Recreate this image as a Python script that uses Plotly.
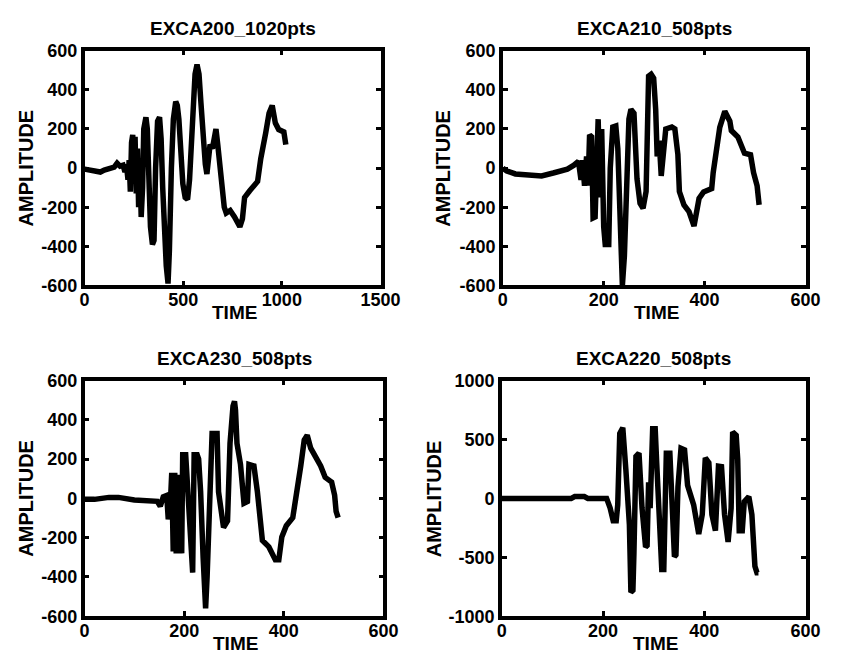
import plotly.graph_objects as go

# ---------------- data ----------------
titles = ["EXCA200_1020pts", "EXCA210_508pts", "EXCA230_508pts", "EXCA220_508pts"]

t200 = [0, 20, 50, 80, 100, 120, 150, 165, 180, 195, 205, 212, 220, 226, 232, 238, 244, 250, 256, 262,
        268, 274, 280, 287, 294, 300, 311, 318, 326, 334, 344, 352, 360, 370, 380, 388, 396, 404, 414, 423,
        430, 440, 450, 462, 470, 478, 488, 498, 510, 522, 532, 540, 550, 560, 570, 580, 590, 600, 612, 620,
        628, 636, 648, 658, 666, 675, 685, 695, 708, 718, 738, 760, 787, 800, 811, 836, 877, 893, 902, 918,
        935, 951, 967, 984, 1010, 1020]
a200 = [-5, -10, -15, -20, -10, -5, 5, 25, 10, 15, -20, 20, -60, 40, -120, 130, 170, -80, 160, -130,
        100, -200, 40, -250, -100, 200, 260, 200, -100, -300, -390, -370, 0, 240, 260, 150, -100, -350, -500, -590,
        -420, 0, 250, 340, 320, 250, 50, -80, -150, -160, -60, 100, 330, 480, 530, 480, 330, 150, 20, -30,
        80, 120, 100, 190, 200, 120, 0, -100, -200, -230, -217, -250, -300, -260, -150, -117, -68, 48, 114, 180,
        280, 320, 230, 197, 185, 120]

t210 = [0, 8, 25, 50, 77, 100, 128, 141, 150, 155, 158, 162, 166, 169, 172, 176, 179, 183, 186, 189,
        193, 196, 200, 203, 210, 213, 218, 224, 228, 232, 237, 241, 245, 250, 254, 260, 266, 272, 278, 284,
        289, 294, 299, 303, 306, 310, 314, 318, 323, 335, 341, 347, 350, 359, 369, 379, 389, 398, 414, 417,
        424, 430, 440, 450, 453, 466, 479, 491, 497, 504, 508]
a210 = [0, -15, -30, -35, -40, -25, -5, 15, 35, -60, 40, -90, 60, -90, 170, 160, -255, -250, 200, 250,
        -150, 200, -300, -390, -390, 0, 210, 215, 100, -300, -600, -450, -100, 250, 300, 280, -55, -180, -205, -120,
        470, 480, 460, 300, 60, 140, -40, 60, 200, 210, 200, 70, -120, -188, -222, -296, -155, -122, -105, -23,
        109, 208, 290, 240, 192, 159, 76, 68, -23, -90, -188]

t230 = [0, 20, 49, 68, 100, 132, 146, 152, 158, 165, 168, 172, 175, 178, 181, 184, 187, 190, 193, 195,
        197, 203, 210, 214, 217, 220, 226, 229, 233, 238, 243, 246, 249, 253, 256, 263, 266, 269, 279, 287,
        292, 298, 301, 303, 306, 313, 320, 327, 330, 340, 347, 357, 370, 383, 390, 396, 405, 418, 428, 434,
        441, 447, 454, 464, 474, 483, 496, 502, 505, 509]
a230 = [-5, -5, 5, 5, -8, -16, -15, -40, 8, 15, -107, -40, 130, -270, 130, -280, 120, -280, 100, -280,
        222, 222, -98, -360, -378, 222, 222, 200, 33, -300, -560, -400, -148, 200, 330, 330, 330, 33, -148, -115,
        280, 470, 494, 450, 280, 173, -25, -16, 173, 165, 33, -214, -247, -313, -313, -196, -139, -98, 49, 165,
        297, 321, 256, 214, 165, 107, 83, 16, -66, -98]

t220 = [0, 137, 144, 163, 170, 207, 214, 220, 226, 229, 233, 239, 245, 252, 255, 259, 261, 265, 271, 277,
        284, 287, 290, 293, 298, 303, 306, 310, 316, 320, 325, 332, 338, 341, 344, 348, 354, 361, 367, 373,
        379, 389, 396, 402, 409, 415, 422, 428, 434, 440, 447, 453, 456, 463, 466, 469, 475, 479, 488, 494,
        497, 500, 504, 507]
a220 = [0, 0, 15, 15, 0, 0, -82, -190, -190, -55, 550, 600, 247, -220, -795, -780, -466, 357, 384, -82,
        -412, -400, 137, -82, 590, 590, 300, -82, -603, -603, 384, 384, -110, -494, -480, 100, 425, 412, 110, 27,
        -55, -302, -137, 343, 302, -137, -274, 274, 270, -137, -370, -82, 563, 535, 330, -274, -274, -27, 14, -137,
        -466, -576, -630, -630]

x_ranges = [[0, 1500], [0, 600], [0, 600], [0, 600]]
x_ticks = [[0, 500, 1000, 1500], [0, 200, 400, 600], [0, 200, 400, 600], [0, 200, 400, 600]]
y_ranges = [[-600, 600], [-600, 600], [-600, 600], [-1000, 1000]]
y_ticks = [[-600, -400, -200, 0, 200, 400, 600], [-600, -400, -200, 0, 200, 400, 600],
           [-600, -400, -200, 0, 200, 400, 600], [-1000, -500, 0, 500, 1000]]

series = [(t200, a200), (t210, a210), (t230, a230), (t220, a220)]

# ---------------- layout geometry ----------------
W, H = 843, 666
boxes = [(82, 387, 42, 284), (513, 825, 42, 284), (82, 390, 382, 625), (512, 825, 382, 625)]
ylabel_x = [22, 452, 22, 442]
FONT = "Liberation Sans"

fig = go.Figure()
layout = dict(width=W, height=H, margin=dict(l=0, r=0, t=0, b=0),
              paper_bgcolor="white", plot_bgcolor="white", showlegend=False,
              font=dict(family=FONT, color="black"))
annotations = []
for i, (ts, amps) in enumerate(series):
    n = "" if i == 0 else str(i + 1)
    x0, x1, y0, y1 = boxes[i]
    fig.add_trace(go.Scatter(x=ts, y=amps, mode="lines", xaxis="x" + n, yaxis="y" + n,
                             line=dict(color="black", width=5.5), hoverinfo="skip"))
    common = dict(showline=True, linecolor="black", linewidth=3.5, mirror="ticks",
                  ticks="inside", ticklen=5, tickwidth=3, tickcolor="black",
                  showgrid=False, zeroline=False,
                  tickfont=dict(family=FONT, size=18, color="black", weight="bold"))
    layout["xaxis" + n] = dict(domain=[x0 / W, x1 / W], range=x_ranges[i], tickvals=x_ticks[i],
                               ticktext=[str(v) for v in x_ticks[i]], ticklabelstandoff=-5,
                               anchor="y" + n, **common)
    layout["yaxis" + n] = dict(domain=[1 - y1 / H, 1 - y0 / H], range=y_ranges[i], tickvals=y_ticks[i],
                               ticktext=[str(v) for v in y_ticks[i]],
                               anchor="x" + n, **common)
    cx = (x0 + x1) / 2
    annotations.append(dict(text=titles[i], x=cx / W, y=1 - (y0 - 23) / H, xref="paper", yref="paper",
                            showarrow=False, xanchor="center", yanchor="middle",
                            font=dict(family=FONT, size=19, color="black", weight="bold")))
    annotations.append(dict(text="TIME", x=(cx + 2) / W, y=1 - (y1 + 28) / H, xref="paper", yref="paper",
                            showarrow=False, xanchor="center", yanchor="middle",
                            font=dict(family=FONT, size=19, color="black", weight="bold")))
    annotations.append(dict(text="AMPLITUDE", x=ylabel_x[i] / W, y=1 - ((y0 + y1) / 2) / H,
                            xref="paper", yref="paper", textangle=-90,
                            showarrow=False, xanchor="center", yanchor="middle",
                            font=dict(family=FONT, size=20, color="black", weight="bold")))
layout["annotations"] = annotations
fig.update_layout(**layout)
fig.write_html("out.html")
